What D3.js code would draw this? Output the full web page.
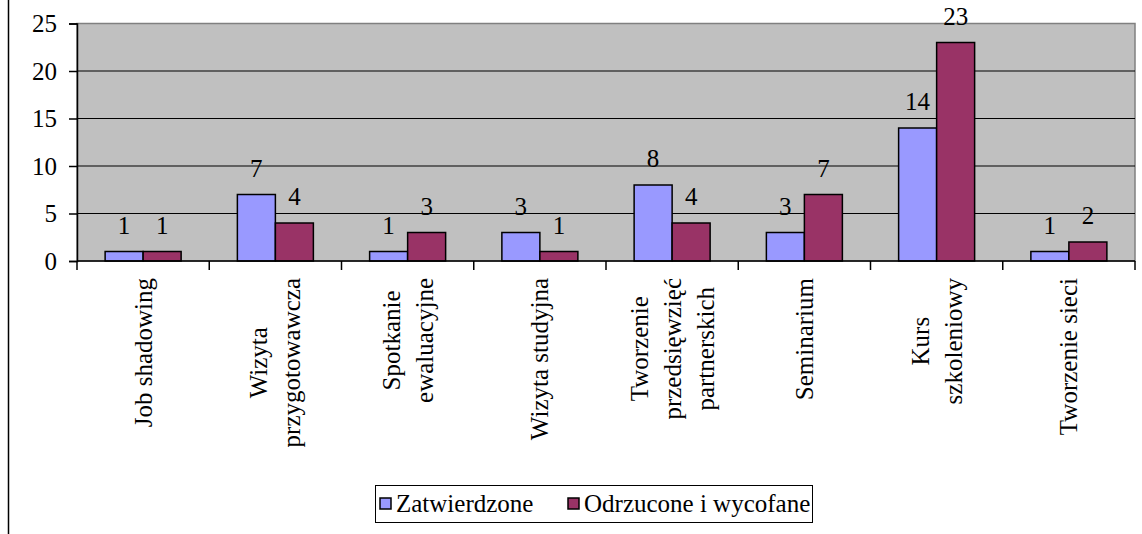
<!DOCTYPE html>
<html>
<head>
<meta charset="utf-8">
<script src="https://cdn.jsdelivr.net/npm/d3@7"></script>
<style>
  body { margin: 0; background: #fff; }
</style>
</head>
<body>
<div id="chart"></div>
<script>
const categories = ['Job shadowing', 'Wizyta\nprzygotowawcza', 'Spotkanie\newaluacyjne', 'Wizyta studyjna',
  'Tworzenie\nprzedsięwzięć\npartnerskich', 'Seminarium', 'Kurs\nszkoleniowy', 'Tworzenie sieci'];
const seriesNames = ['Zatwierdzone', 'Odrzucone i wycofane'];
const zatwierdzone = [1, 7, 1, 3, 8, 3, 14, 1];
const odrzucone = [1, 4, 3, 1, 4, 7, 23, 2];
const yTicks = [0, 5, 10, 15, 20, 25];
const colors = ['#9999FF', '#993366'];

const w = 1142, h = 534;
const plotLeft = 77, plotRight = 1135, plotTop = 23.5, plotBottom = 261;
const font = "'Liberation Serif'";
const fs = 25;

const svg = d3.select('#chart').append('svg').attr('width', w).attr('height', h).style('display', 'block');

// outer frame line on the left
svg.append('line').attr('x1', 8.5).attr('x2', 8.5).attr('y1', 0).attr('y2', h)
   .attr('stroke', '#000').attr('stroke-width', 1.5);

const x0 = d3.scaleBand().domain(categories).range([plotLeft, plotRight]).padding(0);
const x1 = d3.scaleBand().domain(seriesNames).range([0, x0.bandwidth()]).paddingInner(0).paddingOuter(0.74);
const y = d3.scaleLinear().domain([0, 25]).range([plotBottom, plotTop]);

// plot background
svg.append('rect').attr('x', plotLeft).attr('y', plotTop).attr('width', plotRight - plotLeft).attr('height', plotBottom - plotTop)
   .attr('fill', '#C0C0C0').attr('stroke', '#808080').attr('stroke-width', 1.5);

// gridlines
svg.append('g').selectAll('line').data(yTicks.filter(t => t > 0 && t < 25)).join('line')
   .attr('x1', plotLeft).attr('x2', plotRight).attr('y1', d => y(d)).attr('y2', d => y(d))
   .attr('stroke', '#000').attr('stroke-width', 1.2);

// y axis
const yAxis = svg.append('g').attr('transform', `translate(${plotLeft},0)`)
   .call(d3.axisLeft(y).tickValues(yTicks).tickSize(8).tickPadding(12));
yAxis.select('.domain').attr('stroke', '#000').attr('stroke-width', 1.5);
yAxis.selectAll('.tick line').attr('stroke-width', 1.5);
yAxis.selectAll('text').style('font-family', font).style('font-size', fs + 'px').attr('fill', '#000');

// bars
const table = categories.map((c, i) => ({ cat: c, vals: [zatwierdzone[i], odrzucone[i]] }));
const groups = svg.append('g').selectAll('g').data(table).join('g')
   .attr('transform', d => `translate(${x0(d.cat)},0)`);
groups.selectAll('rect').data(d => d.vals.map((v, j) => ({ name: seriesNames[j], v, j }))).join('rect')
   .attr('x', d => x1(d.name)).attr('y', d => y(d.v))
   .attr('width', x1.bandwidth()).attr('height', d => y(0) - y(d.v))
   .attr('fill', d => colors[d.j]).attr('stroke', '#000').attr('stroke-width', 1.5);
groups.selectAll('text').data(d => d.vals.map((v, j) => ({ name: seriesNames[j], v }))).join('text')
   .attr('x', d => x1(d.name) + x1.bandwidth() / 2).attr('y', d => y(d.v) - 18)
   .attr('text-anchor', 'middle').style('font-family', font).style('font-size', fs + 'px').text(d => d.v);

// x axis
const xAxis = svg.append('g').attr('transform', `translate(0,${plotBottom})`);
xAxis.append('line').attr('x1', plotLeft).attr('x2', plotRight).attr('stroke', '#000').attr('stroke-width', 1.5);
xAxis.selectAll('.tk').data(d3.range(categories.length + 1)).join('line')
   .attr('x1', i => plotLeft + i * x0.step()).attr('x2', i => plotLeft + i * x0.step())
   .attr('y1', 0).attr('y2', 9).attr('stroke', '#000').attr('stroke-width', 1.5);

// category labels, rotated, ending near the axis
const lineGap = 33, labelTop = 278;
categories.forEach(c => {
  const lines = c.split('\n');
  const cx = x0(c) + x0.bandwidth() / 2;
  const g = svg.append('g');
  const texts = lines.map(l => g.append('text').style('font-family', font).style('font-size', fs + 'px')
     .attr('text-anchor', 'middle').attr('dominant-baseline', 'central').text(l));
  const maxLen = d3.max(texts, t => t.node().getComputedTextLength());
  const cy = labelTop + maxLen / 2;
  texts.forEach((t, k) => {
    const lx = cx + (k - (lines.length - 1) / 2) * lineGap;
    t.attr('transform', `translate(${lx},${cy}) rotate(-90)`);
  });
});

// legend
const legend = svg.append('g');
legend.append('rect').attr('x', 375.5).attr('y', 485.5).attr('width', 437).attr('height', 37)
   .attr('fill', '#fff').attr('stroke', '#000').attr('stroke-width', 1);
const legendX = [380, 568];
seriesNames.forEach((n, j) => {
  legend.append('rect').attr('x', legendX[j]).attr('y', 498).attr('width', 11).attr('height', 11)
     .attr('fill', colors[j]).attr('stroke', '#000').attr('stroke-width', 1.5);
  legend.append('text').attr('x', legendX[j] + 16).attr('y', 512)
     .style('font-family', font).style('font-size', fs + 'px').text(n);
});
</script>
</body>
</html>
